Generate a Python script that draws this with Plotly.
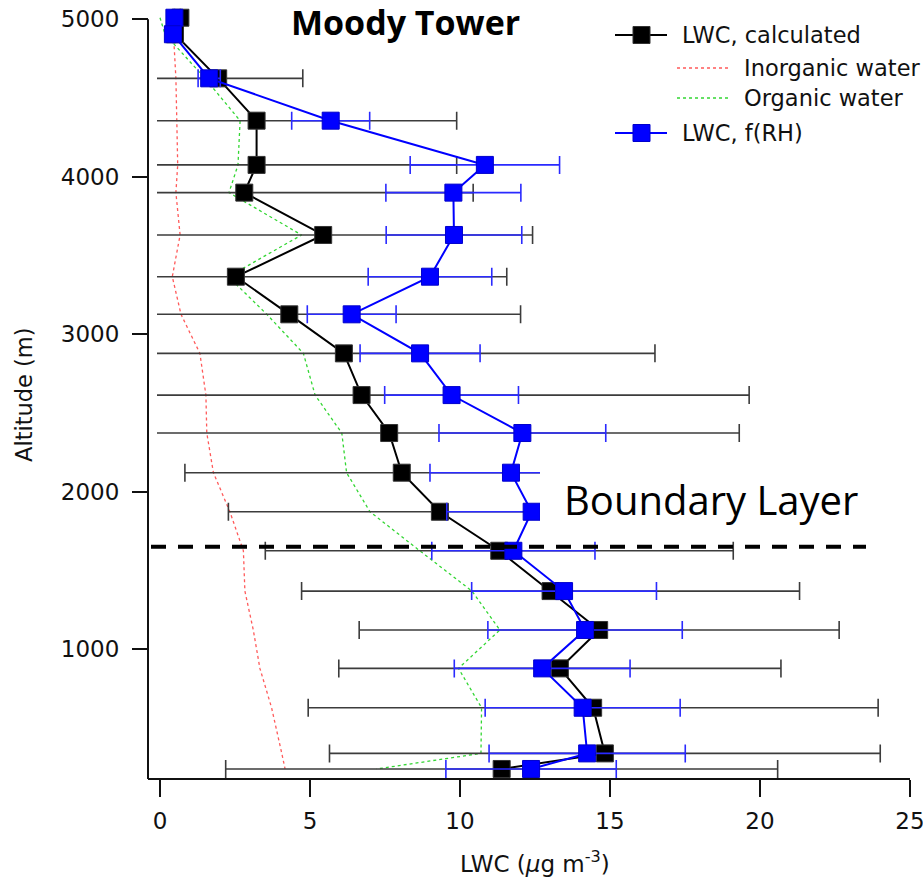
import plotly.graph_objects as go

# ---------------- data ----------------
altitude = [5010, 4905, 4625, 4356, 4075, 3899, 3630, 3365, 3126, 2878, 2613,
            2372, 2120, 1872, 1624, 1368, 1121, 877, 627, 337, 238]

lwc_calculated = [0.68, 0.50, 1.94, 3.22, 3.22, 2.81, 5.44, 2.53, 4.31, 6.13, 6.72,
                  7.64, 8.06, 9.33, 11.31, 13.02, 14.64, 13.33, 14.44, 14.83, 11.39]
lwc_calculated_err = [0, 0, 2.82, 6.67, 6.67, 7.63, 6.98, 9.03, 7.71, 10.37, 12.92,
                      11.67, 7.23, 7.05, 7.8, 8.3, 8.0, 7.37, 9.5, 9.18, 9.2]

lwc_frh = [0.48, 0.43, 1.64, 5.69, 10.83, 9.78, 9.80, 9.00, 6.39, 8.67, 9.72,
           12.08, 11.70, 12.39, 11.78, 13.47, 14.17, 12.74, 14.09, 14.24, 12.37]
lwc_frh_err = [0, 0, 0.37, 1.3, 2.49, 2.25, 2.26, 2.06, 1.48, 2.0, 2.23,
               2.78, 2.7, 2.83, 2.72, 3.08, 3.24, 2.93, 3.25, 3.27, 2.84]

inorganic_alt = [4905, 4625, 4356, 4075, 3899, 3630, 3365, 3126, 2878, 2613,
                 2372, 2120, 1872, 1624, 1368, 1121, 877, 627, 337, 238]
inorganic_water = [0.45, 0.53, 0.56, 0.59, 0.53, 0.67, 0.41, 0.70, 1.33, 1.53,
                   1.56, 1.78, 2.33, 2.78, 2.83, 3.11, 3.33, 3.72, 4.06, 4.17]

organic_water = [0.0, 0.17, 1.5, 2.67, 2.6, 2.3, 4.72, 2.28, 3.56, 4.78, 5.17,
                 6.06, 6.22, 7.0, 8.66, 10.4, 11.33, 9.95, 10.72, 10.7, 7.22]

x_tick_values = [0, 5, 10, 15, 20, 25]
y_tick_values = [1000, 2000, 3000, 4000, 5000]
boundary_layer_altitude = 1650

# ---------------- geometry (pixels of the 923x884 page) ----------------
W, H = 923, 884
ML, MR, MT, MB = 148, 13, 8, 105
PW = W - ML - MR          # 762
PH = H - MT - MB          # 771


def px(xpix):
    return (xpix - ML) / PW


def py(ypix):
    return (H - MB - ypix) / PH


TICKFONT = dict(family="DejaVu Sans", size=23, color="#111")

fig = go.Figure()

fig.add_trace(go.Scatter(
    x=inorganic_water, y=inorganic_alt, mode="lines", name="Inorganic water",
    line=dict(color="#ff5a5a", width=1.3, dash="dot"), showlegend=False))

fig.add_trace(go.Scatter(
    x=organic_water, y=altitude, mode="lines", name="Organic water",
    line=dict(color="#33d633", width=1.3, dash="dot"), showlegend=False))

fig.add_trace(go.Scatter(
    x=lwc_calculated, y=altitude, mode="lines+markers", name="LWC, calculated",
    line=dict(color="#000000", width=2),
    marker=dict(symbol="square", size=17, color="#000000",
                line=dict(color="#333", width=1)),
    error_x=dict(type="data", array=lwc_calculated_err, symmetric=True,
                 color="#3c3c3c", thickness=1.6, width=9),
    showlegend=False))

fig.add_trace(go.Scatter(
    x=lwc_frh, y=altitude, mode="lines+markers", name="LWC, f(RH)",
    line=dict(color="#0000ff", width=2),
    marker=dict(symbol="square", size=17, color="#0000ff",
                line=dict(color="#0000cc", width=1)),
    error_x=dict(type="data", array=lwc_frh_err, symmetric=True,
                 color="#2a2aff", thickness=1.6, width=9),
    showlegend=False))

# y range chosen so that 5000 m sits at pixel 19.3 and the x axis at pixel 779
m_per_px = 1000 / 157.43
y_top = 5000 + (19.3 - MT) * m_per_px
y_bot = 5000 - (779 - 19.3) * m_per_px

shapes = [
    # axis lines (Igor style, y axis offset from the plot area)
    dict(type="line", xref="paper", yref="paper", x0=0, x1=1, y0=0, y1=0,
         line=dict(color="#111", width=2)),
    dict(type="line", xref="paper", yref="paper", x0=0, x1=0, y0=0, y1=py(19.3),
         line=dict(color="#111", width=2)),
    # boundary layer dashed line
    dict(type="line", xref="paper", yref="y", x0=px(151), x1=px(866),
         y0=boundary_layer_altitude, y1=boundary_layer_altitude,
         line=dict(color="#000", width=4, dash="15px,12px"), layer="above"),
    # white box behind the "Boundary Layer" label
    dict(type="rect", xref="paper", yref="paper", x0=px(540), x1=px(878),
         y0=py(541), y1=py(452), fillcolor="white", line=dict(width=0),
         layer="above"),
    # legend samples
    dict(type="line", xref="paper", yref="paper", x0=px(615), x1=px(667),
         y0=py(35), y1=py(35), line=dict(color="#000", width=2)),
    dict(type="rect", xref="paper", yref="paper", x0=px(633), x1=px(650),
         y0=py(43.5), y1=py(26.5), fillcolor="#000", line=dict(color="#333", width=1)),
    dict(type="line", xref="paper", yref="paper", x0=px(677), x1=px(728),
         y0=py(68), y1=py(68), line=dict(color="#ff5a5a", width=1.3, dash="dot")),
    dict(type="line", xref="paper", yref="paper", x0=px(677), x1=px(728),
         y0=py(98), y1=py(98), line=dict(color="#33d633", width=1.3, dash="dot")),
    dict(type="line", xref="paper", yref="paper", x0=px(615), x1=px(667),
         y0=py(133), y1=py(133), line=dict(color="#0000ff", width=2)),
    dict(type="rect", xref="paper", yref="paper", x0=px(633), x1=px(650),
         y0=py(141.5), y1=py(124.5), fillcolor="#0000ff", line=dict(color="#0000cc", width=1)),
]

LEGFONT = dict(family="DejaVu Sans", size=22.5, color="#111")
annotations = [
    dict(text="LWC, calculated", x=px(680), y=py(35), xanchor="left", yanchor="middle",
         font=LEGFONT),
    dict(text="Inorganic water", x=px(742), y=py(68), xanchor="left", yanchor="middle",
         font=LEGFONT),
    dict(text="Organic water", x=px(742), y=py(98), xanchor="left", yanchor="middle",
         font=LEGFONT),
    dict(text="LWC, f(RH)", x=px(680), y=py(133), xanchor="left", yanchor="middle",
         font=LEGFONT),
    dict(text="<b>Moody Tower</b>", x=px(405), y=py(22), xanchor="center", yanchor="middle",
         font=dict(family="Open Sans", size=34, color="#000")),
    dict(text="Boundary Layer", x=px(711), y=py(500), xanchor="center", yanchor="middle",
         font=dict(family="Open Sans", size=40, color="#000")),
    dict(text="Altitude (m)", x=px(24), y=py(395), xanchor="center", yanchor="middle",
         textangle=-90, font=dict(family="DejaVu Sans", size=22.5, color="#111")),
    dict(text="LWC (<i>µ</i>g m<sup>-3</sup>)", x=px(535), y=py(862), xanchor="center",
         yanchor="middle", font=dict(family="DejaVu Sans", size=23, color="#111")),
]
for a in annotations:
    a.update(xref="paper", yref="paper", showarrow=False)

fig.update_layout(
    width=W, height=H,
    margin=dict(l=ML, r=MR, t=MT, b=MB, pad=0, autoexpand=False),
    paper_bgcolor="white", plot_bgcolor="white",
    showlegend=False,
    shapes=shapes,
    annotations=annotations,
    xaxis=dict(domain=[9 / PW, 1], range=[-0.1, 25.002], tickvals=x_tick_values,
               ticktext=[str(v) for v in x_tick_values],
               ticks="outside", ticklen=17, tickwidth=2, tickcolor="#111",
               showline=False, showgrid=False, zeroline=False, automargin=False,
               tickfont=TICKFONT, ticklabelstandoff=4, ticklabeloverflow="allow"),
    yaxis=dict(anchor="free", position=0, range=[y_bot, y_top],
               tickvals=y_tick_values, ticktext=[str(v) for v in y_tick_values],
               ticks="outside", ticklen=16, tickwidth=2, tickcolor="#111",
               showline=False, showgrid=False, zeroline=False, automargin=False,
               tickfont=TICKFONT, ticklabelstandoff=8),
)

fig.write_html("out.html")
